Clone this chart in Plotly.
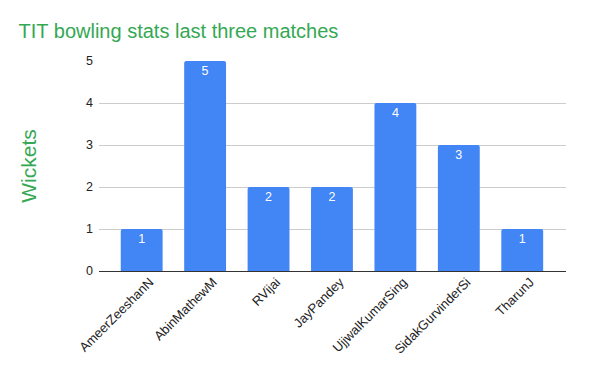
import plotly.graph_objects as go

players = ["AmeerZeeshanN", "AbinMathewM", "RVijai", "JayPandey",
           "UjjwalKumarSing", "SidakGurvinderSi", "TharunJ"]
wickets = [1, 5, 2, 2, 4, 3, 1]
y_ticks = [0, 1, 2, 3, 4, 5]

FONT = "Liberation Sans, Arial"

fig = go.Figure(go.Bar(
    x=list(range(len(players))), y=wickets,
    marker=dict(color="#4285f4", line=dict(width=0), cornerradius=2),
    width=0.66,
    text=[str(w) for w in wickets], textposition="inside",
    insidetextanchor="end",
    textfont=dict(color="white", size=12.5, family=FONT),
))

fig.update_layout(
    width=600, height=371,
    margin=dict(l=99, r=34, t=61, b=100, autoexpand=False),
    paper_bgcolor="white", plot_bgcolor="white",
    font=dict(family=FONT, size=12.5, color="#222222"),
    title=dict(text="TIT bowling stats last three matches", x=0.031, xanchor="left",
               y=0.916, yanchor="middle",
               font=dict(size=20, color="#34a853", family=FONT)),
    showlegend=False,
    bargap=0.34,
)
fig.update_xaxes(
    tickmode="array", tickvals=list(range(len(players))), ticktext=players,
    tickangle=-45, range=[-0.673, 6.69], showgrid=False, zeroline=False,
    showline=False, ticks="", tickfont=dict(size=13, color="#222222"),
    ticklabelshift=8, automargin=False,
)
fig.update_yaxes(
    range=[0, 5], tickvals=y_ticks, showgrid=True, gridcolor="#cccccc",
    zeroline=True, zerolinecolor="#333333", zerolinewidth=1,
    ticks="", ticklen=0, tickfont=dict(size=12.5, color="#222222"),
    ticklabelstandoff=5,
    title=dict(text="Wickets", font=dict(size=21, color="#34a853"), standoff=43),
    automargin=False,
)
fig.write_html("out.html", post_script="document.body.style.margin='0';",
               config={"displayModeBar": False})
